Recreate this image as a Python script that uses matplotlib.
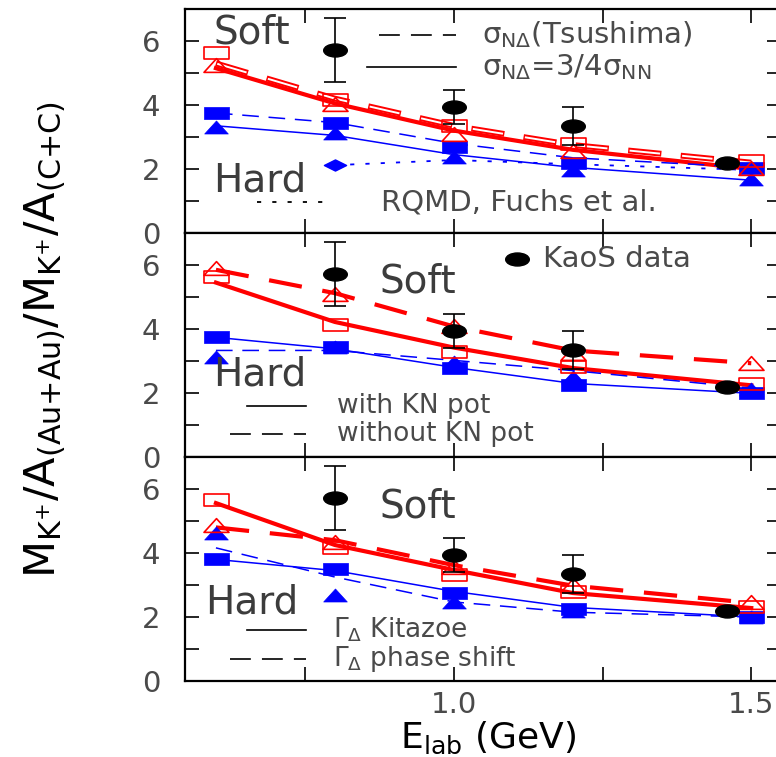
import numpy as np
import matplotlib
matplotlib.use('Agg')
import matplotlib.pyplot as plt
from matplotlib.path import Path
from matplotlib.transforms import Affine2D
from matplotlib.ticker import FixedLocator, NullFormatter, FixedFormatter

plt.rcParams['font.family'] = ['DejaVu Sans']
plt.rcParams['mathtext.default'] = 'regular'
plt.rcParams['lines.scale_dashes'] = False

# ---------------- data ----------------
E = [0.6, 0.8, 1.0, 1.2, 1.5]
kaos_E = [0.8, 1.0, 1.2, 1.46]
kaos_y = [5.73, 3.95, 3.35, 2.2]
kaos_err = [1.0, 0.53, 0.6, 0.0]

# panel 1: sigma_NDelta variants
p1_red_sq = [5.62, 4.15, 3.35, 2.77, 2.25]
p1_red_tri = [5.25, 4.02, 3.08, 2.55, 2.02]
p1_red_dash = [5.3, 4.2, 3.35, 2.75, 2.2]
p1_red_solid = [5.15, 4.05, 3.2, 2.6, 2.0]
p1_blue_sq = [3.75, 3.43, 2.68, 2.19, 2.04]
p1_blue_tri = [3.3, 3.12, 2.38, 1.98, 1.68]
p1_blue_dash = [3.75, 3.45, 2.8, 2.35, 2.05]
p1_blue_solid = [3.35, 3.05, 2.45, 2.05, 1.65]
rqmd_E = [0.8, 1.0, 1.2, 1.5]
rqmd_y = [2.12, 2.28, 2.15, 1.97]

# panel 2: with / without KN potential
p2_red_sq = [5.61, 4.11, 3.27, 2.8, 2.27]
p2_red_tri = [5.92, 5.1, 4.1, 3.24, 2.93]
p2_red_solid = [5.45, 4.22, 3.42, 2.78, 2.24]
p2_red_dash = [5.85, 5.12, 4.08, 3.33, 2.93]
p2_blue_sq = [3.74, 3.43, 2.77, 2.24, 2.0]
p2_blue_tri = [3.12, 3.45, 2.96, 2.5, 2.12]
p2_blue_solid = [3.74, 3.38, 2.8, 2.3, 1.99]
p2_blue_dash = [3.33, 3.33, 3.02, 2.7, 2.15]

# panel 3: Delta width variants
p3_red_sq = [5.66, 4.16, 3.31, 2.78, 2.3]
p3_red_tri = [4.88, 4.34, 3.55, 3.0, 2.47]
p3_red_solid = [5.56, 4.25, 3.47, 2.75, 2.28]
p3_red_dash = [4.8, 4.4, 3.62, 2.98, 2.44]
p3_blue_sq = [3.81, 3.5, 2.75, 2.25, 2.0]
p3_blue_tri = [4.62, 2.69, 2.47, 2.2, 2.0]
p3_blue_solid = [3.8, 3.45, 2.8, 2.3, 2.0]
p3_blue_dash = [4.16, 3.25, 2.47, 2.15, 2.0]

yticks_major = [0, 2, 4, 6]
yticks_minor = [1, 3, 5]
xticks_major = [1.0, 1.5]
xticks_minor = [0.75, 1.25]
xtick_labels = ['1.0', '1.5']

# ---------------- styles ----------------
W, H = 776, 757
RED = '#ff0000'
BLUE = '#0000ff'
TXT = '#3c3c3c'
TXT2 = '#4a4a4a'

def closed(verts):
    verts = list(verts) + [verts[0]]
    codes = [Path.MOVETO] + [Path.LINETO] * (len(verts) - 2) + [Path.CLOSEPOLY]
    return Path(verts, codes)

M_SQ = closed([(-1, -0.5), (1, -0.5), (1, 0.5), (-1, 0.5)])
M_TRI = closed([(-1, -0.55), (1, -0.55), (0, 0.55)])
M_DIA = closed([(-1, 0), (0, -0.5), (1, 0), (0, 0.5)])
M_ELL = Affine2D().scale(1, 0.55).transform_path(Path.unit_circle())

fig = plt.figure(figsize=(W / 100, H / 100), dpi=100)

def F(x, y):
    return (x / W, 1 - y / H)

left_px, right_px = 185, 781
tops = [(9, 233), (233, 457), (457, 681)]
axes = []
for (t, b) in tops:
    ax = fig.add_axes([left_px / W, 1 - b / H, (right_px - left_px) / W, (b - t) / H])
    ax.set_xlim(0.548, 1.55)
    ax.set_ylim(0, 7)
    ax.yaxis.set_major_locator(FixedLocator(yticks_major))
    ax.yaxis.set_minor_locator(FixedLocator(yticks_minor))
    ax.xaxis.set_major_locator(FixedLocator(xticks_major))
    ax.xaxis.set_minor_locator(FixedLocator(xticks_minor))
    ax.xaxis.set_minor_formatter(NullFormatter())
    ax.tick_params(which='both', direction='in', top=True, right=True,
                   length=10, width=1.2, color='black')
    ax.tick_params(axis='y', which='major', labelsize=21, labelcolor=TXT2, pad=18)
    ax.tick_params(axis='x', which='major', labelsize=21, labelcolor=TXT2, pad=7)
    for s in ax.spines.values():
        s.set_linewidth(1.6)
    axes.append(ax)

for ax in axes[:2]:
    ax.tick_params(axis='x', labelbottom=False)
axes[2].xaxis.set_major_formatter(FixedFormatter(xtick_labels))

RED_DASH = (0, (24, 15))
BLUE_DASH = (0, (12, 7))

def draw_models(ax, red_sq, red_tri, red_a, red_b, blue_sq, blue_tri, blue_a, blue_b,
                red_a_ls, red_b_ls, blue_a_ls, blue_b_ls, hollow=False):
    if hollow:
        ax.plot(E, red_a, color=RED, lw=4.2, ls=(0, (24, 14)), zorder=2,
                dash_capstyle='butt')
        ax.plot(E, red_a, color='white', lw=1.4, ls=(37, (22, 16)), zorder=2.1,
                dash_capstyle='butt')
    else:
        ax.plot(E, red_a, color=RED, lw=3.0, ls=red_a_ls, zorder=2, dash_capstyle='butt')
    ax.plot(E, red_b, color=RED, lw=3.0, ls=red_b_ls, zorder=2, dash_capstyle='butt')
    ax.plot(E, blue_a, color=BLUE, lw=1.1, ls=blue_a_ls, zorder=2)
    ax.plot(E, blue_b, color=BLUE, lw=1.1, ls=blue_b_ls, zorder=2)
    ax.plot(E, blue_sq, ls='none', marker=M_SQ, ms=18, color=BLUE, mew=0.5, zorder=3)
    ax.plot(E, blue_tri, ls='none', marker=M_TRI, ms=17, color=BLUE, mew=0.5, zorder=3)
    ax.plot(E, red_sq, ls='none', marker=M_SQ, ms=18, mfc='none', mec=RED, mew=1.2, zorder=3)
    ax.plot(E, red_tri, ls='none', marker=M_TRI, ms=18, mfc='none', mec=RED, mew=1.2, zorder=3)

def draw_kaos(ax):
    ax.errorbar(kaos_E, kaos_y, yerr=kaos_err, fmt='none', ecolor='black',
                elinewidth=1.2, capsize=8, capthick=1.2, zorder=4)
    ax.plot(kaos_E, kaos_y, ls='none', marker=M_ELL, ms=17, color='black', zorder=5)

# panel 1
a1 = axes[0]
draw_models(a1, p1_red_sq, p1_red_tri, p1_red_dash, p1_red_solid,
            p1_blue_sq, p1_blue_tri, p1_blue_dash, p1_blue_solid,
            RED_DASH, '-', BLUE_DASH, '-', hollow=True)
a1.plot(rqmd_E, rqmd_y, color=BLUE, lw=1.3, ls=(0, (3, 8)), zorder=1.5)
a1.plot(rqmd_E[:1], rqmd_y[:1], ls='none', marker=M_DIA, ms=16, color=BLUE, zorder=3)
draw_kaos(a1)

# panel 2
a2 = axes[1]
draw_models(a2, p2_red_sq, p2_red_tri, p2_red_dash, p2_red_solid,
            p2_blue_sq, p2_blue_tri, p2_blue_solid, p2_blue_dash,
            RED_DASH, '-', '-', BLUE_DASH)
draw_kaos(a2)

# panel 3
a3 = axes[2]
draw_models(a3, p3_red_sq, p3_red_tri, p3_red_dash, p3_red_solid,
            p3_blue_sq, p3_blue_tri, p3_blue_solid, p3_blue_dash,
            RED_DASH, '-', '-', BLUE_DASH)
draw_kaos(a3)

# ---------------- annotations (positions in reference pixels) ----------------
def ftext(x, y, s, size, color=TXT, **kw):
    fig.text(*F(x, y), s, fontsize=size, color=color, ha='left', va='center', **kw)

def fline(x0, x1, y, ls, lw=1.2, color='black'):
    fig.add_artist(plt.Line2D([x0 / W, x1 / W], [1 - y / H, 1 - y / H],
                              transform=fig.transFigure, color=color, lw=lw, ls=ls))

LEG_DASH = (0, (15, 8))
# panel 1
ftext(213, 33, 'Soft', 28)
ftext(213, 181, 'Hard', 28)
fline(379, 456, 35, LEG_DASH)
ftext(482, 35, r'$\sigma_{N\Delta}$(Tsushima)', 21, TXT2)
fline(367, 456, 67, '-')
ftext(482, 67, r'$\sigma_{N\Delta}$=3/4$\sigma_{NN}$', 21, TXT2)
fline(257, 325, 202, (0, (3, 8)), lw=1.3)
ftext(381, 202, 'RQMD, Fuchs et al.', 21, TXT2)

# panel 2
fig.add_artist(plt.Line2D([517 / W], [1 - 259 / H], transform=fig.transFigure,
                          marker=M_ELL, ms=17, color='black', ls='none'))
ftext(543, 259, 'KaoS data', 21, TXT2)
ftext(379, 282, 'Soft', 28)
ftext(213, 375, 'Hard', 28)
fline(247, 306, 406, '-')
ftext(337, 406, 'with KN pot', 19, TXT2)
fline(230, 306, 434, LEG_DASH)
ftext(337, 434, 'without KN pot', 19, TXT2)

# panel 3
ftext(379, 506, 'Soft', 28)
ftext(205, 602, 'Hard', 28)
fline(247, 306, 630, '-')
ftext(333, 630, r'$\Gamma_{\Delta}$ Kitazoe', 19, TXT2)
fline(230, 306, 659, LEG_DASH)
ftext(333, 659, r'$\Gamma_{\Delta}$ phase shift', 19, TXT2)

# axis labels
fig.text(*F(46, 340), r'$M_{K^{+}}/A_{(Au{+}Au)}/M_{K^{+}}/A_{(C{+}C)}$', fontsize=31,
         rotation=90, ha='center', va='center', color='black')
fig.text(*F(488, 756), r'$E_{lab}$ (GeV)', fontsize=26, ha='center', va='bottom', color='black')

fig.savefig('out.png', dpi=100)
